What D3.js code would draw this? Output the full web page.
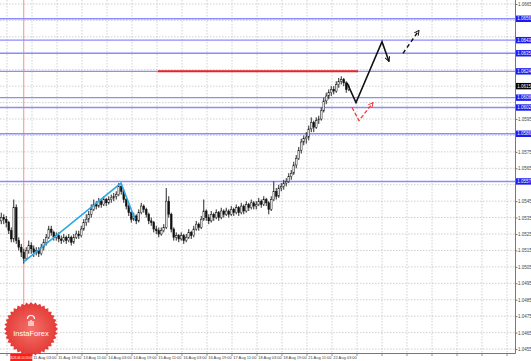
<!DOCTYPE html>
<html><head><meta charset="utf-8">
<script src="https://cdn.jsdelivr.net/npm/d3@7"></script>
<style>html,body{margin:0;padding:0;background:#fff;}svg{display:block;}</style>
</head><body>
<svg id="c" width="531" height="361"></svg>
<script>
// ---- data ----
const openP = [
1.0533,1.0535,1.0534,1.0532,1.0527,1.0522,1.0541,1.0521,1.0517,1.0514,
1.0510,1.0515,1.0518,1.0516,1.0514,1.0515,1.0513,1.0517,1.0520,1.0523,
1.0528,1.0526,1.0523,1.0524,1.0522,1.0521,1.0523,1.0521,1.0523,1.0520,
1.0523,1.0525,1.0524,1.0528,1.0532,1.0534,1.0537,1.0540,1.0543,1.0542,
1.0545,1.0543,1.0546,1.0544,1.0546,1.0547,1.0548,1.0549,1.0554,1.0551,
1.0546,1.0542,1.0538,1.0534,1.0536,1.0533,1.0538,1.0542,1.0540,1.0537,
1.0533,1.0532,1.0528,1.0527,1.0525,1.0527,1.0529,1.0545,1.0537,1.0528,
1.0523,1.0524,1.0522,1.0524,1.0521,1.0523,1.0526,1.0524,1.0528,1.0531,
1.0529,1.0534,1.0539,1.0535,1.0533,1.0537,1.0535,1.0538,1.0535,1.0539,
1.0537,1.0539,1.0537,1.0540,1.0538,1.0541,1.0538,1.0542,1.0539,1.0543,
1.0541,1.0544,1.0542,1.0543,1.0545,1.0543,1.0546,1.0544,1.0540,1.0546,
1.0551,1.0548,1.0553,1.0554,1.0556,1.0557,1.0560,1.0562,1.0567,1.0571,
1.0576,1.0581,1.0583,1.0584,1.0589,1.0593,1.0590,1.0594,1.0595,1.0600,
1.0606,1.0609,1.0611,1.0613,1.0612,1.0616,1.0618,1.0619,1.0617,1.0613];
const closeP = [
1.0535,1.0534,1.0532,1.0527,1.0522,1.0541,1.0521,1.0517,1.0514,1.0510,
1.0515,1.0518,1.0516,1.0514,1.0515,1.0513,1.0517,1.0520,1.0523,1.0528,
1.0526,1.0523,1.0524,1.0522,1.0521,1.0523,1.0521,1.0523,1.0520,1.0523,
1.0525,1.0524,1.0528,1.0532,1.0534,1.0537,1.0540,1.0543,1.0542,1.0545,
1.0543,1.0546,1.0544,1.0546,1.0547,1.0548,1.0549,1.0554,1.0551,1.0546,
1.0542,1.0538,1.0534,1.0536,1.0533,1.0538,1.0542,1.0540,1.0537,1.0533,
1.0532,1.0528,1.0527,1.0525,1.0527,1.0529,1.0545,1.0537,1.0528,1.0523,
1.0524,1.0522,1.0524,1.0521,1.0523,1.0526,1.0524,1.0528,1.0531,1.0529,
1.0534,1.0539,1.0535,1.0533,1.0537,1.0535,1.0538,1.0535,1.0539,1.0537,
1.0539,1.0537,1.0540,1.0538,1.0541,1.0538,1.0542,1.0539,1.0543,1.0541,
1.0544,1.0542,1.0543,1.0545,1.0543,1.0546,1.0544,1.0540,1.0546,1.0551,
1.0548,1.0553,1.0554,1.0556,1.0557,1.0560,1.0562,1.0567,1.0571,1.0576,
1.0581,1.0583,1.0584,1.0589,1.0593,1.0590,1.0594,1.0595,1.0600,1.0606,
1.0609,1.0611,1.0613,1.0612,1.0616,1.0618,1.0619,1.0617,1.0613,1.0615];
const highP = [
1.0538,1.0537,1.0536,1.0533,1.0529,1.0546,1.0543,1.0523,1.0519,1.0516,
1.0517,1.0521,1.0520,1.0518,1.0517,1.0517,1.0519,1.0522,1.0525,1.0530,
1.0530,1.0527,1.0526,1.0526,1.0524,1.0525,1.0524,1.0525,1.0524,1.0525,
1.0527,1.0527,1.0530,1.0534,1.0537,1.0539,1.0543,1.0546,1.0545,1.0547,
1.0546,1.0548,1.0547,1.0548,1.0549,1.0550,1.0551,1.0556,1.0555,1.0552,
1.0547,1.0543,1.0539,1.0538,1.0537,1.0540,1.0544,1.0543,1.0541,1.0538,
1.0535,1.0533,1.0530,1.0529,1.0529,1.0531,1.0553,1.0548,1.0538,1.0529,
1.0526,1.0525,1.0526,1.0525,1.0525,1.0528,1.0527,1.0530,1.0533,1.0532,
1.0536,1.0546,1.0540,1.0537,1.0539,1.0538,1.0540,1.0539,1.0541,1.0540,
1.0541,1.0540,1.0542,1.0541,1.0543,1.0542,1.0544,1.0543,1.0545,1.0544,
1.0546,1.0545,1.0545,1.0547,1.0546,1.0548,1.0547,1.0545,1.0548,1.0557,
1.0553,1.0555,1.0556,1.0558,1.0559,1.0562,1.0564,1.0569,1.0573,1.0578,
1.0583,1.0585,1.0587,1.0591,1.0596,1.0594,1.0596,1.0597,1.0602,1.0608,
1.0611,1.0613,1.0615,1.0615,1.0618,1.0620,1.0621,1.0620,1.0618,1.0616];
const lowP = [
1.0531,1.0531,1.0529,1.0525,1.0520,1.0520,1.0519,1.0515,1.0511,1.0507,
1.0509,1.0513,1.0513,1.0511,1.0512,1.0511,1.0512,1.0515,1.0518,1.0522,
1.0524,1.0521,1.0521,1.0520,1.0519,1.0520,1.0519,1.0520,1.0518,1.0519,
1.0522,1.0522,1.0523,1.0527,1.0530,1.0532,1.0535,1.0539,1.0540,1.0541,
1.0541,1.0542,1.0542,1.0543,1.0544,1.0545,1.0546,1.0548,1.0549,1.0544,
1.0540,1.0536,1.0532,1.0533,1.0531,1.0532,1.0537,1.0538,1.0535,1.0531,
1.0530,1.0526,1.0525,1.0523,1.0524,1.0526,1.0528,1.0535,1.0526,1.0521,
1.0521,1.0520,1.0521,1.0519,1.0520,1.0522,1.0522,1.0523,1.0527,1.0527,
1.0528,1.0533,1.0533,1.0531,1.0532,1.0533,1.0534,1.0533,1.0534,1.0535,
1.0536,1.0535,1.0536,1.0536,1.0537,1.0536,1.0537,1.0537,1.0538,1.0539,
1.0540,1.0540,1.0540,1.0542,1.0541,1.0542,1.0542,1.0537,1.0539,1.0545,
1.0546,1.0547,1.0551,1.0552,1.0554,1.0556,1.0558,1.0561,1.0565,1.0570,
1.0574,1.0579,1.0580,1.0582,1.0587,1.0587,1.0589,1.0592,1.0594,1.0599,
1.0604,1.0607,1.0609,1.0610,1.0611,1.0614,1.0616,1.0615,1.0611,1.0612];

const priceTicks = [1.0665,1.0655,1.0645,1.0635,1.0625,1.0615,1.0605,1.0595,1.0585,1.0575,1.0565,
  1.0555,1.0545,1.0535,1.0525,1.0515,1.0505,1.0495,1.0485,1.0475,1.0465,1.0455];
const timeLabels = ["11 Aug 03:00","11 Aug 19:00","13 Aug 11:00","14 Aug 03:00","14 Aug 19:00",
  "15 Aug 11:00","16 Aug 03:00","16 Aug 19:00","17 Aug 11:00","18 Aug 03:00","18 Aug 19:00",
  "21 Aug 11:00","22 Aug 03:00"];
const levelPrices = [1.0656,1.0643,1.0635,1.0624,1.0608,1.0602,1.0586,1.0557];
const currentPrice = 1.0615;
const resistance = {fromBar: 62.7, toBar: 142.7, price: 1.0624};
const markerBar = 9;
const markerLabel = "2023.08.10 20:00";
const zigzagBars = [9, 47.9, 53.5];
const zigzagPrices = [1.0508, 1.0556, 1.0534];
const blackBars = [138.3, 141.9, 152.3, 155.1];
const blackPrices = [1.0617, 1.0605, 1.0642, 1.0630];
const dashBars = [160.7, 167.1];
const dashPrices = [1.0635, 1.0649];
const redBars = [140.3, 143.1, 148.7];
const redPrices = [1.0602, 1.0594, 1.0605];

// ---- layout ----
const W = 531, H = 361, PW = 515, PH = 353;
const svg = d3.select("#c");
const x = d3.scaleLinear().domain([0, 1]).range([1.25, 3.75]);
const y = d3.scaleLinear().domain([1.0455, 1.0665]).range([4 + 21 * 16.43, 4]);
const gridBars = d3.range(2.3, 206, 10);
const FONT = "Liberation Sans, Arial, sans-serif";

const defs = svg.append("defs");
defs.append("clipPath").attr("id", "clip").append("rect").attr("width", PW).attr("height", PH);
function marker(id, color) {
  defs.append("marker").attr("id", id).attr("viewBox", "0 0 10 10").attr("refX", 9).attr("refY", 5)
    .attr("markerWidth", 6).attr("markerHeight", 6).attr("orient", "auto").attr("markerUnits", "userSpaceOnUse")
    .append("path").attr("d", "M1,1 L9,5 L1,9").attr("fill", "none").attr("stroke", color).attr("stroke-width", 1.6);
}
marker("arBlack", "#111");
marker("arRed", "#f03c3c");
const grad = defs.append("radialGradient").attr("id", "logoG");
grad.append("stop").attr("offset", "0%").attr("stop-color", "#f36a62");
grad.append("stop").attr("offset", "100%").attr("stop-color", "#e2302c");

svg.append("rect").attr("width", W).attr("height", H).attr("fill", "#fff");
const plot = svg.append("g").attr("clip-path", "url(#clip)");

// grid
plot.selectAll(".hg").data(priceTicks).join("line")
  .attr("x1", 0).attr("x2", PW).attr("y1", d => y(d)).attr("y2", d => y(d))
  .attr("stroke", "#c4c4c4").attr("stroke-width", 0.8).attr("stroke-dasharray", "1.5,1.5");
plot.selectAll(".vg").data(gridBars).join("line")
  .attr("x1", d => x(d)).attr("x2", d => x(d)).attr("y1", 0).attr("y2", PH)
  .attr("stroke", "#c4c4c4").attr("stroke-width", 0.8).attr("stroke-dasharray", "1.5,1.5");

// marker vertical line
plot.append("line").attr("x1", x(markerBar)).attr("x2", x(markerBar)).attr("y1", 0).attr("y2", PH)
  .attr("stroke", "#ff8a8a").attr("stroke-width", 1);

// level lines
plot.selectAll(".lv").data(levelPrices).join("line")
  .attr("x1", 0).attr("x2", PW).attr("y1", d => y(d)).attr("y2", d => y(d))
  .attr("stroke", "#8c8cff").attr("stroke-width", 1.4);

// resistance red line
plot.append("line").attr("x1", x(resistance.fromBar)).attr("x2", x(resistance.toBar))
  .attr("y1", y(resistance.price)).attr("y2", y(resistance.price))
  .attr("stroke", "#ee2020").attr("stroke-width", 2);

// candles
const idx = d3.range(closeP.length);
const cg = plot.append("g");
cg.selectAll(".wick").data(idx).join("line")
  .attr("x1", i => x(i)).attr("x2", i => x(i)).attr("y1", i => y(highP[i])).attr("y2", i => y(lowP[i]))
  .attr("stroke", "#111").attr("stroke-width", 0.9);
cg.selectAll(".body").data(idx).join("rect")
  .attr("x", i => x(i) - 0.85).attr("width", 1.7)
  .attr("y", i => y(Math.max(openP[i], closeP[i])))
  .attr("height", i => Math.max(0.8, Math.abs(y(openP[i]) - y(closeP[i]))))
  .attr("fill", i => closeP[i] >= openP[i] ? "#fff" : "#111")
  .attr("stroke", "#111").attr("stroke-width", 0.5);

// zigzag
const line = d3.line().x(d => x(d[0])).y(d => y(d[1]));
plot.append("path").attr("d", line(d3.zip(zigzagBars, zigzagPrices)))
  .attr("fill", "none").attr("stroke", "#2fa8e6").attr("stroke-width", 1.6);

// projections
plot.append("path").attr("d", line(d3.zip(blackBars, blackPrices)))
  .attr("fill", "none").attr("stroke", "#111").attr("stroke-width", 1.6).attr("marker-end", "url(#arBlack)");
plot.append("path").attr("d", line(d3.zip(dashBars, dashPrices)))
  .attr("fill", "none").attr("stroke", "#111").attr("stroke-width", 1.4).attr("stroke-dasharray", "4,3")
  .attr("marker-end", "url(#arBlack)");
plot.append("path").attr("d", line(d3.zip(redBars, redPrices)))
  .attr("fill", "none").attr("stroke", "#f03c3c").attr("stroke-width", 1.3).attr("stroke-dasharray", "4,2")
  .attr("marker-end", "url(#arRed)");

// frame
svg.append("line").attr("x1", PW + 0.5).attr("x2", PW + 0.5).attr("y1", 0).attr("y2", PH + 0.5)
  .attr("stroke", "#777").attr("stroke-width", 1);
svg.append("line").attr("x1", 0).attr("x2", PW + 0.5).attr("y1", PH + 0.5).attr("y2", PH + 0.5)
  .attr("stroke", "#777").attr("stroke-width", 1);

// right axis labels (grey labels that sit under a price box are covered by it, as in the reference)
const boxed = levelPrices.concat([currentPrice]);
const freeTicks = priceTicks.filter(t => boxed.every(b => Math.abs(y(t) - y(b)) > 6.6));
const axR = svg.append("g").attr("transform", `translate(${PW + 0.5},0)`)
  .call(d3.axisRight(y).tickValues(freeTicks).tickFormat(d3.format(".4f")).tickSize(2).tickPadding(0.5));
axR.select(".domain").remove();
axR.selectAll("line").attr("stroke", "#777");
axR.selectAll("text").attr("font-family", FONT).attr("font-size", 4.5).attr("fill", "#444");

function priceBox(p, fill) {
  const g = svg.append("g").attr("transform", `translate(${PW + 1},${y(p)})`);
  g.append("rect").attr("x", 0).attr("y", -3.2).attr("width", 15).attr("height", 6.4).attr("fill", fill);
  g.append("text").attr("x", 1.3).attr("y", 1.6).text(d3.format(".4f")(p))
    .attr("font-family", FONT).attr("font-size", 4.5).attr("fill", "#fff");
}
levelPrices.forEach(p => priceBox(p, "#1c1cf0"));
priceBox(currentPrice, "#000");

// bottom axis labels
const axB = svg.append("g");
const labelBars = gridBars.slice(1, 1 + timeLabels.length);
axB.selectAll("line").data(gridBars).join("line")
  .attr("x1", d => x(d)).attr("x2", d => x(d)).attr("y1", PH + 0.5).attr("y2", PH + 3)
  .attr("stroke", "#777").attr("stroke-width", 0.8);
axB.selectAll("text").data(labelBars).join("text")
  .attr("x", d => x(d) + 1.2).attr("y", 359)
  .text((d, i) => timeLabels[i])
  .attr("font-family", FONT).attr("font-size", 4).attr("fill", "#444");

// marker label (ends just before the first time label)
const mLeft = x(markerBar) - 13.5, mRight = x(labelBars[0]) + 0.3;
svg.append("rect").attr("x", mLeft).attr("y", PH + 1).attr("width", mRight - mLeft).attr("height", 7)
  .attr("fill", "#ff1a1a");
svg.append("text").attr("x", (mLeft + mRight) / 2).attr("y", 359)
  .attr("text-anchor", "middle")
  .text(markerLabel).attr("font-family", FONT).attr("font-size", 2.9).attr("fill", "#fff");

// InstaForex badge
const teeth = 36, cx = 31, cy = 329, r1 = 27, r2 = 24.5;
const pts = d3.range(teeth * 2).map(k => {
  const a = Math.PI * k / teeth, r = k % 2 ? r2 : r1;
  return [a, r];
});
svg.append("path").attr("transform", `translate(${cx},${cy})`)
  .attr("d", d3.lineRadial().angle(d => d[0]).radius(d => d[1]).curve(d3.curveLinearClosed)(pts))
  .attr("fill", "url(#logoG)").attr("opacity", 0.95);
const ic = svg.append("g").attr("transform", `translate(${cx},${cy - 7})`)
  .attr("fill", "none").attr("stroke", "#fff").attr("stroke-width", 1.2);
ic.append("path").attr("d", "M-3.5,-3 A3.5,3.5 0 0 1 3.5,-3");
ic.append("path").attr("d", "M-2,-1 L-2,4 M2,-1 L2,4 M0,-2 L0,4");
svg.append("text").attr("x", cx).attr("y", cy + 7).attr("text-anchor", "middle")
  .text("InstaForex").attr("font-family", FONT).attr("font-size", 7.5).attr("fill", "#fff");
</script>
</body></html>
